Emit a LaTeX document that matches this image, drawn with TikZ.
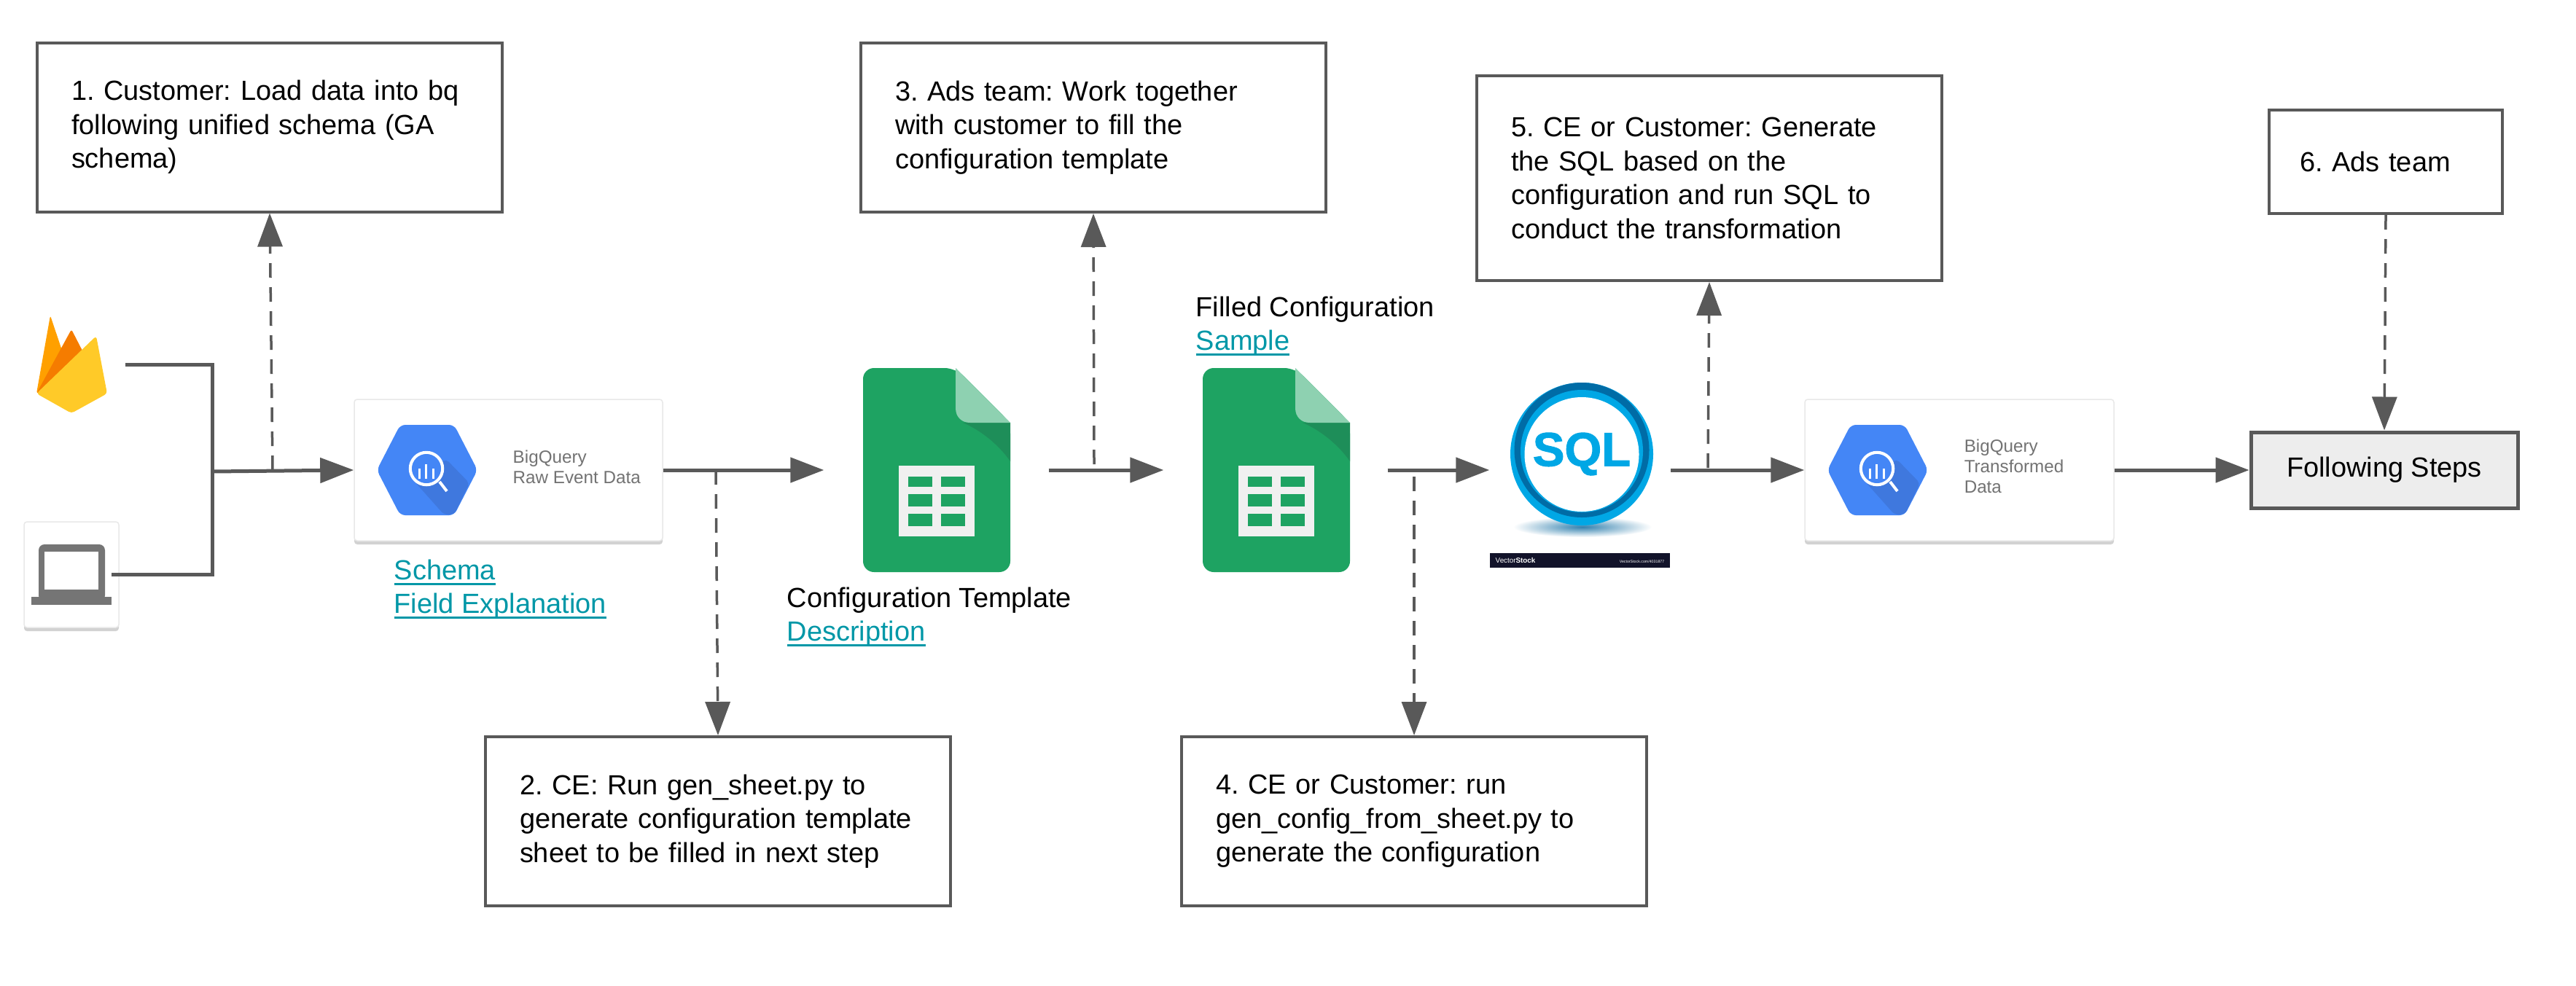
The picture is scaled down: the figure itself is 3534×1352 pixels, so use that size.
\documentclass[tikz,border=0pt]{standalone}
\usepackage{fontspec}
\setmainfont{Liberation Sans}
\newfontfamily\sqlfont{Liberation Sans}[UprightFont=* Bold,FakeBold=1.5]
\usetikzlibrary{arrows.meta,shadows}
\definecolor{flowgrey}{HTML}{595959}
\definecolor{linkteal}{HTML}{0097A7}
\definecolor{iconblue}{HTML}{4486F6}
\definecolor{iconshade}{HTML}{3F78DE}
\definecolor{sheetgreen}{HTML}{1EA362}
\definecolor{sheetfold}{HTML}{8ED1B1}
\definecolor{sheetdark}{HTML}{1E8E59}
\definecolor{sqllight}{HTML}{00A7E5}
\definecolor{sqldark}{HTML}{00629B}
\definecolor{stockbar}{HTML}{12132A}
\definecolor{fireamber}{HTML}{FFA000}
\definecolor{fireorange}{HTML}{F57C00}
\definecolor{fireyellow}{HTML}{FFCA28}
\newcommand{\linktext}[1]{\leavevmode\textcolor{linkteal}{\setbox0=\hbox{#1}\rlap{\rule[-0.8mm]{\wd0}{0.35mm}}\box0}}
\tikzset{
  stepbox/.style={draw=flowgrey,line width=0.4mm,fill=white,inner xsep=4.7mm,inner ysep=0pt,align=left,
    text width=#1,minimum height=23.2mm,
    font=\fontsize{10.8}{13.25}\selectfont\frenchspacing},
  flow/.style={draw=flowgrey,line width=0.5mm},
  flowarrow/.style={flow,-{Triangle[length=4.6mm,width=3.4mm]}},
  duty/.style={draw=flowgrey,line width=0.35mm,dash pattern=on 2mm off 1.3mm,
    -{Triangle[length=4.6mm,width=3.4mm]}},
  card/.style={fill=white,draw=black!9,line width=0.15mm,rounded corners=0.4mm,inner sep=0pt,
    drop shadow={shadow xshift=0mm,shadow yshift=-0.5mm,fill=black!35}},
  slot/.style={inner sep=0pt,minimum width=#1},
  caption/.style={inner sep=0pt,anchor=north west,align=left,
    font=\fontsize{10.8}{13.1}\selectfont},
  cardtext/.style={inner sep=0pt,anchor=west,align=left,text=black!55,
    font=\fontsize{6.9}{7.9}\selectfont},
  bqhex/.pic={
    \fill[iconblue,rounded corners=0.7mm] (-37,-62) -- (37,-62) -- (69,0) -- (37,62) -- (-37,62) -- (-69,0) -- cycle;
    \fill[iconshade,rounded corners=0.5mm] (26,-15) -- (58,18) -- (37,61) -- (23,61) -- (-18,15) -- cycle;
    \draw[white,line width=0.45mm] (-1,-2) circle (22);
    \fill[iconblue] (-1,-2) circle (20);
    \draw[white,line width=0.4mm] (17,16) -- (27,29);
    \fill[white] (-12,-2) rectangle (-9,12);
    \fill[white] (-3,-8) rectangle (0,12);
    \fill[white] (7,-2) rectangle (10,12);
  },
  sheetdoc/.pic={
    \fill[sheetgreen,rounded corners=1.5mm] (-101,-140) -- (26,-140) -- (101,-65) -- (101,140) -- (-101,140) -- cycle;
    \fill[sheetdark] (36,-65) -- (101,-65) -- (101,-12) .. controls (85,-35) and (60,-55) .. (36,-65) -- cycle;
    \fill[sheetfold] (26,-140) -- (101,-65) -- (46,-65) .. controls (34,-65) and (26,-73) .. (26,-85) -- cycle;
    \fill[black!6] (-52,-6) rectangle (52,91);
    \foreach \cellx in {-39,6} \foreach \celly/\cellh in {9/14,33/17,60/17}
      \fill[sheetgreen] (\cellx,\celly) rectangle ++(33,\cellh);
  }
}
\begin{document}
\begin{tikzpicture}[x=0.1mm,y=-0.1mm]
  \useasboundingbox (0,0) rectangle (3534,1352);
  % white cards and image slots
  \node[card,minimum width=13mm,minimum height=14.5mm] (laptop) at (98,788.5) {};
  \node[card,minimum width=42.3mm,minimum height=19.4mm] (rawdata) at (697.5,645) {};
  \node[card,minimum width=42.4mm,minimum height=19.4mm] (transformed) at (2688,645) {};
  \node[slot=14.6mm] (firebase) at (98,500) {};
  \node[slot=30.7mm,minimum height=28mm] (template) at (1284.5,645) {};
  \node[slot=30.6mm,minimum height=28mm] (filled) at (1750,645) {};
  \node[slot=24.7mm,minimum height=27mm] (sqlimage) at (2167.5,645) {};
  % text boxes
  \node[stepbox=54.4mm] (loadbox) at (370,174.5)
    {1. Customer: Load data into bq\\following unified schema (GA\\schema)};
  \node[stepbox=54.4mm] (genbox) at (985,1127)
    {2. CE: Run gen\_sheet.py to\\generate configuration template\\sheet to be filled in next step};
  \node[stepbox=54.4mm] (fillbox) at (1500,175)
    {3. Ads team: Work together\\with customer to fill the\\configuration template};
  \node[stepbox=54.4mm] (configbox) at (1940,1127)
    {4. CE or Customer: run\\gen\_config\_from\_sheet.py to\\generate the configuration};
  \node[stepbox=54.4mm,minimum height=28.1mm] (sqlbox) at (2345,244.5)
    {5. CE or Customer: Generate\\the SQL based on the\\configuration and run SQL to\\conduct the transformation};
  \node[stepbox=23.6mm,inner xsep=4.2mm,minimum height=14.2mm] (adsbox) at (3273,222) {6. Ads team};
  \node[draw=flowgrey,line width=0.5mm,fill=black!7,inner sep=0pt,minimum width=36.6mm,minimum height=10.4mm,
    font=\fontsize{10.8}{13.1}\selectfont] (nextbox) at (3271,645) {Following Steps};
  % icons
  \fill[black!54,rounded corners=0.8mm] (53,747) rectangle (144,825);
  \fill[white] (61,757) rectangle (135,809);
  \fill[black!54] (43,819) rectangle (153,830);
  \fill[fireamber,rounded corners=0.3mm] (50,540) -- (69,433) -- (100,525) -- cycle;
  \fill[fireorange,rounded corners=0.3mm] (50,540) -- (98,452) -- (115,485) -- cycle;
  \fill[fireyellow,rounded corners=0.4mm] (50,540) -- (132,461) -- (147,540) -- (98,567) -- cycle;
  \pic at (586,645) {bqhex};
  \pic at (2576,645) {bqhex};
  \pic at (1285,645) {sheetdoc};
  \pic at (1751,645) {sheetdoc};
  % sql badge
  \shade[inner color=sqldark!80,outer color=white] (2171,723) ellipse (95 and 14);
  \fill[sqllight] (2170,623) circle (98);
  \fill[sqldark!85!sqllight] (2170,617.5) circle (92.5);
  \fill[sqllight] (2170,619) circle (84);
  \fill[white] (2170,623.5) circle (78.5);
  \node[inner sep=0pt,text=sqllight,font=\fontsize{18.6}{20}\sqlfont] (sqlword) at (2170,623) {SQL};
  \fill[stockbar] (2044,759) rectangle (2291,779);
  \node[inner sep=0pt,anchor=west,text=white,font=\fontsize{2.8}{3}\selectfont] (stockname) at (2051,769) {Vector\textbf{Stock}};
  \node[inner sep=0pt,anchor=east,text=white,font=\fontsize{1.5}{2}\selectfont] (stockurl) at (2284,771) {VectorStock.com/4031877};
  % captions
  \node[cardtext] (rawlabel) at (703,641) {BigQuery\\Raw Event Data};
  \node[cardtext] (translabel) at (2694,640) {BigQuery\\Transformed\\Data};
  \node[caption] (schemalink) at (540,767) {\linktext{Schema}\\\linktext{Field Explanation}};
  \node[caption] (templatelabel) at (1079,805) {Configuration Template\\\linktext{Description}};
  \node[caption] (filledlabel) at (1640,406) {Filled Configuration\\\linktext{Sample}};
  % connectors
  \coordinate (merge) at (291,647);
  \coordinate (laptopend) at (153,788);
  \coordinate (loadtap) at (374,645);
  \coordinate (gentap) at (982,645);
  \coordinate (filltap) at (1501,637);
  \coordinate (configtap) at (1940,654);
  \coordinate (sqltap) at (2343,642);
  \draw[flow] (firebase.east) -| (merge) |- (laptopend);
  \draw[flowarrow] (merge) -- (rawdata.west);
  \draw[flowarrow] (rawdata.east) -- (template.west);
  \draw[flowarrow] (template.east) -- (filled.west);
  \draw[flowarrow] (filled.east) -- (sqlimage.west);
  \draw[flowarrow] (sqlimage.east) -- (transformed.west);
  \draw[flowarrow] (transformed.east) -- (nextbox.west);
  \draw[duty] (loadtap) -- (loadbox.south);
  \draw[duty] (gentap) -- (genbox.north);
  \draw[duty] (filltap) -- (fillbox.south);
  \draw[duty] (configtap) -- (configbox.north);
  \draw[duty] (sqltap) -- (sqlbox.south);
  \draw[duty] (adsbox.south) -- (nextbox.north);
\end{tikzpicture}
\end{document}
